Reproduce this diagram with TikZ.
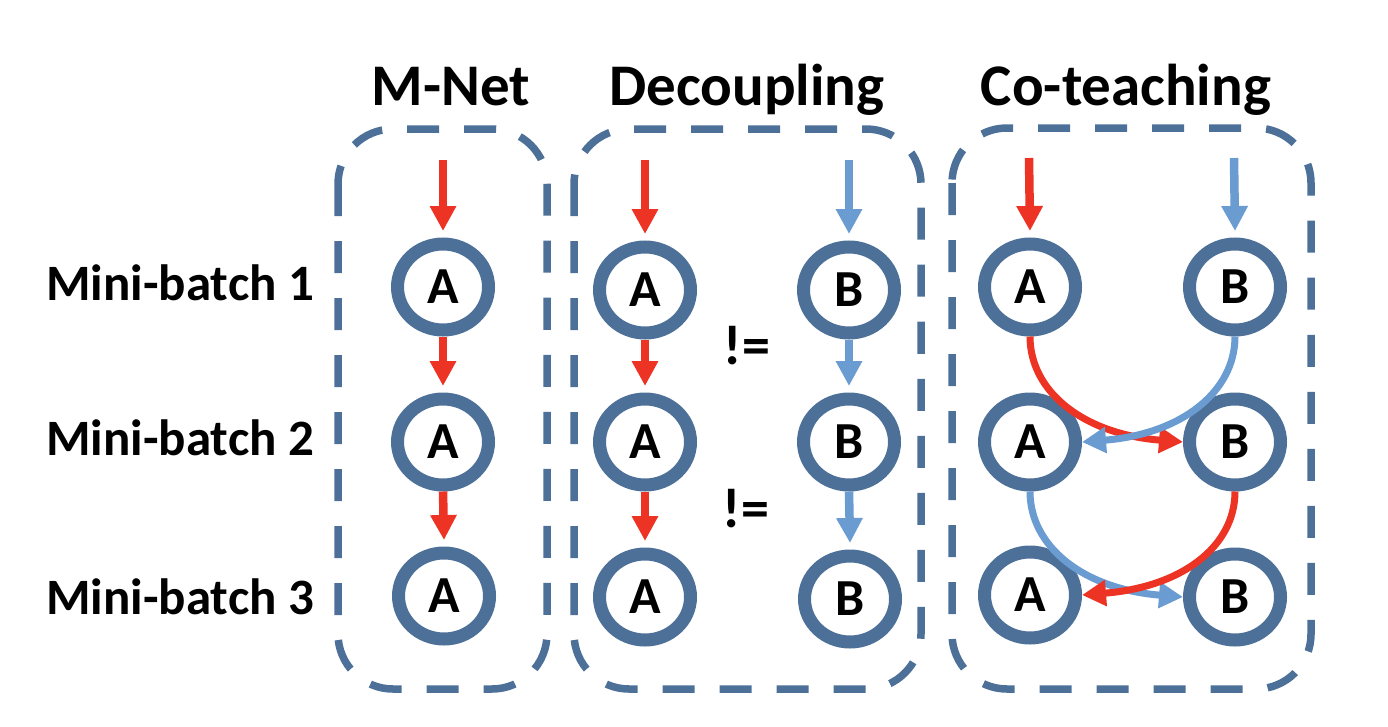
\documentclass[tikz,border=0pt]{standalone}
\usepackage{fontspec}
\setmainfont{Carlito}
\usetikzlibrary{arrows.meta,shapes.geometric}
\definecolor{ringblue}{RGB}{77,112,153}
\definecolor{arrred}{RGB}{236,51,36}
\definecolor{arrblue}{RGB}{106,155,209}
\begin{document}
\begin{tikzpicture}[x=1pt,y=-1pt,
  ring/.style={ellipse, draw=ringblue, line width=13pt, minimum width=91pt, minimum height=86pt,
    inner sep=0pt, fill=white, font=\bfseries\fontsize{52pt}{56pt}\selectfont},
  dashbox/.style={draw=ringblue, line width=7.5pt, rounded corners=55pt, dash pattern=on 32pt off 25pt},
  title/.style={anchor=base, inner sep=0pt, font=\bfseries\fontsize{59pt}{66pt}\selectfont},
  rowlabel/.style={anchor=base west, inner sep=0pt, font=\bfseries\fontsize{51pt}{58pt}\selectfont},
  neq/.style={inner sep=0pt, font=\bfseries\fontsize{56pt}{60pt}\selectfont},
  redarr/.style={draw=arrred, line width=8.5pt, -{Triangle[width=25pt,length=25pt]}},
  bluearr/.style={draw=arrblue, line width=8.5pt, -{Triangle[width=25pt,length=25pt]}},
  redcurve/.style={draw=arrred, line width=7pt, -{Triangle[width=25pt,length=24pt]}},
  bluecurve/.style={draw=arrblue, line width=7pt, -{Triangle[width=25pt,length=24pt]}},
]
\useasboundingbox (0,0) rectangle (1388,726);

% dashed containers
\draw[dashbox] (338,129) rectangle (547,689);
\draw[dashbox] (574,129) rectangle (921,689);
\draw[dashbox] (952,128) rectangle (1311,689);

% titles
\node[title] (tm) at (451,105) {M-Net};
\node[title] (td) at (747,105) {Decoupling};
\node[title] (tc) at (1126,105) {Co-teaching};

% row labels
\node[rowlabel] (r1) at (46,300) {Mini-batch 1};
\node[rowlabel] (r2) at (46,455) {Mini-batch 2};
\node[rowlabel] (r3) at (46,614) {Mini-batch 3};

% M-Net
\node[ring] (m1) at (443,287) {A};
\node[ring] (m2) at (443,442) {A};
\node[ring] (m3) at (444,596) {A};
% Decoupling
\node[ring] (da1) at (645,290) {A};
\node[ring] (da2) at (645,442) {A};
\node[ring] (da3) at (645,597) {A};
\node[ring] (db1) at (849,290) {B};
\node[ring] (db2) at (849,442) {B};
\node[ring] (db3) at (850,599) {B};
% Co-teaching
\node[ring] (ca1) at (1030,287) {A};
\node[ring] (ca2) at (1030,442) {A};
\node[ring] (ca3) at (1030,595) {A};
\node[ring] (cb1) at (1235,287) {B};
\node[ring] (cb2) at (1235,442) {B};
\node[ring] (cb3) at (1235,597) {B};

% != signs
\node[neq] (ne1) at (747,346) {!=};
\node[neq] (ne2) at (746,509) {!=};

% input coordinates
\coordinate (m0) at (443,160);
\coordinate (da0) at (645,160);
\coordinate (db0) at (849,160);
\coordinate (ca0) at (1029,158);
\coordinate (cb0) at (1234,158);

% M-Net arrows
\draw[redarr] (m0) -- ([yshift=6.5pt]m1.north);
\draw[redarr] (m1.south) -- ([yshift=6.5pt]m2.north);
\draw[redarr] (m2.south) -- ([yshift=6.5pt]m3.north);
% Decoupling arrows
\draw[redarr] (da0) -- ([yshift=6.5pt]da1.north);
\draw[redarr] (da1.south) -- ([yshift=6.5pt]da2.north);
\draw[redarr] (da2.south) -- ([yshift=6.5pt]da3.north);
\draw[bluearr] (db0) -- ([yshift=6.5pt]db1.north);
\draw[bluearr] (db1.south) -- ([yshift=6.5pt]db2.north);
\draw[bluearr] (db2.south) -- ([yshift=6.5pt]db3.north);
% Co-teaching arrows
\draw[redarr] (ca0) -- ([yshift=6.5pt]ca1.north);
\draw[bluearr] (cb0) -- ([yshift=6.5pt]cb1.north);
\draw[redcurve] (ca1.south) .. controls +(0,55) and +(-100,-8) .. (cb2.west);
\draw[bluecurve] (cb1.south) .. controls +(0,55) and +(100,-8) .. (ca2.east);
\draw[bluecurve] (ca2.south) .. controls +(0,55) and +(-100,-8) .. (cb3.west);
\draw[redcurve] (cb2.south) .. controls +(0,55) and +(100,-8) .. (ca3.east);
\end{tikzpicture}
\end{document}
